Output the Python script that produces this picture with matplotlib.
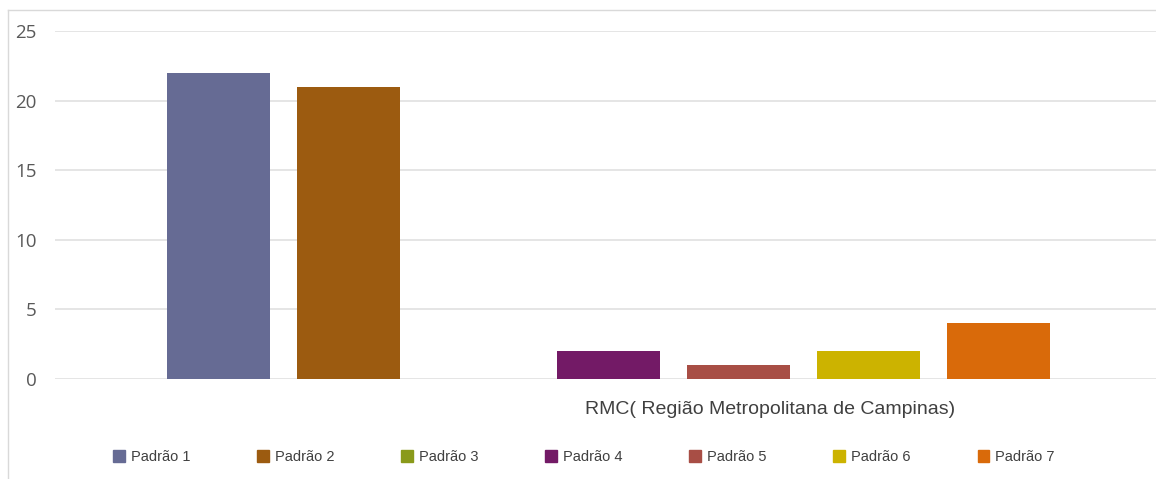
import matplotlib
matplotlib.use("Agg")
import matplotlib.pyplot as plt
from matplotlib.lines import Line2D
import numpy as np

series = ["Padrão 1", "Padrão 2", "Padrão 3", "Padrão 4", "Padrão 5", "Padrão 6", "Padrão 7"]
values = [22, 21, 0, 2, 1, 2, 4]
colors = ["#666b94", "#9c5b10", "#8a9a1a", "#731a66", "#a84e45", "#ccb300", "#d96a0a"]
category = "RMC( Região Metropolitana de Campinas)"
yticks = [0, 5, 10, 15, 20, 25]

fig = plt.figure(figsize=(11.56, 4.79), dpi=100)
ax = fig.add_axes([55/1156, 1-379/479, 1-55/1156, (379-31)/479])

offsets = np.arange(len(series)) - 3
width = 103/130
for off, v, c, s in zip(offsets, values, colors, series):
    ax.bar(off, v, width=width, color=c, label=s, zorder=3)

ax.set_ylim(0, 25)
ax.set_xlim(-4.26, 4.21)
ax.set_yticks(yticks)
ax.set_yticklabels([str(t) for t in yticks], fontfamily="Open Sans", fontsize=13.5, color="#595959")
ax.tick_params(axis="y", length=0, pad=13)
ax.tick_params(axis="x", length=0, pad=16)
ax.set_xticks([1.24])
ax.set_xticklabels([category], fontfamily="Liberation Sans", fontsize=14, color="#404040")
ax.grid(axis="y", color="#dedede", linewidth=1.1, zorder=0)
for sp in ax.spines.values():
    sp.set_visible(False)

handles = [plt.Rectangle((0, 0), 1, 1, color=c) for c in colors]
leg = fig.legend(handles, series, loc="center", bbox_to_anchor=(0.505, 1-457/479), ncol=7,
                 frameon=False, prop={"family": "Liberation Sans", "size": 10.5},
                 handlelength=0.8, handleheight=0.8, handletextpad=0.4, columnspacing=4.6)
for t in leg.get_texts():
    t.set_color("#404040")

# figure border lines (left and top)
fig.add_artist(Line2D([8/1156, 8/1156], [0, 1-10/479], color="#d9d9d9", linewidth=1, transform=fig.transFigure))
fig.add_artist(Line2D([8/1156, 1], [1-10/479, 1-10/479], color="#d9d9d9", linewidth=1, transform=fig.transFigure))

fig.savefig("out.png", dpi=100)
